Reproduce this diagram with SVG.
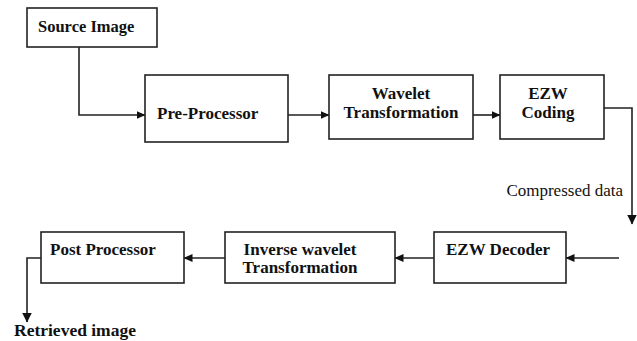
<svg xmlns="http://www.w3.org/2000/svg" width="637" height="341" viewBox="0 0 637 341">
  <style>
    .box { fill: #ffffff; stroke: #222222; stroke-width: 1.6; }
    text { font-family: 'Liberation Serif', 'DejaVu Serif', 'Times New Roman', serif; fill: #111111; }
    .lbl { font-weight: bold; font-size: 17px; }
    .note { font-weight: normal; font-size: 17px; }
    .wire { fill: none; stroke: #222222; stroke-width: 1.6; }
  </style>
  <defs>
    <marker id="arr" markerWidth="9" markerHeight="8" refX="8.5" refY="4" orient="auto" markerUnits="userSpaceOnUse">
      <path d="M0,0 L9,4 L0,8 Z" fill="#111111"/>
    </marker>
    <marker id="arrBig" markerWidth="10" markerHeight="10" refX="9.5" refY="5" orient="auto" markerUnits="userSpaceOnUse">
      <path d="M0,0 L10,5 L0,10 Z" fill="#111111"/>
    </marker>
  </defs>
  <rect width="637" height="341" fill="#ffffff"/>

  <g id="connectors">
    <path class="wire" d="M79,47 V115 H145" marker-end="url(#arr)"/>
    <path class="wire" d="M288,115 H329" marker-end="url(#arr)"/>
    <path class="wire" d="M473,115 H500" marker-end="url(#arr)"/>
    <path class="wire" d="M604,108 H632 V224" marker-end="url(#arrBig)"/>
    <path class="wire" d="M619,258 H566" marker-end="url(#arr)"/>
    <path class="wire" d="M434,258 H395" marker-end="url(#arr)"/>
    <path class="wire" d="M225,258 H184" marker-end="url(#arr)"/>
    <path class="wire" d="M41,258 H27 V322" marker-end="url(#arrBig)"/>
  </g>

  <g font-family="Liberation Serif, serif">
    <g id="source-image">
      <rect class="box" x="27" y="8" width="130" height="39"/>
      <text class="lbl" x="38" y="32" style="font-size:16.5px">Source Image</text>
    </g>

    <g id="pre-processor">
      <rect class="box" x="145" y="75" width="143" height="67"/>
      <text class="lbl" x="157" y="119">Pre-Processor</text>
    </g>

    <g id="wavelet-transformation">
      <rect class="box" x="329" y="75" width="144" height="64"/>
      <text class="lbl" x="401" y="99" text-anchor="middle">Wavelet</text>
      <text class="lbl" x="401" y="118" text-anchor="middle">Transformation</text>
    </g>

    <g id="ezw-coding">
      <rect class="box" x="500" y="75" width="104" height="64"/>
      <text class="lbl" x="548" y="99" text-anchor="middle">EZW</text>
      <text class="lbl" x="548" y="118" text-anchor="middle">Coding</text>
    </g>

    <g id="compressed-data">
      <text class="note" x="623" y="196" text-anchor="end">Compressed data</text>
    </g>

    <g id="ezw-decoder">
      <rect class="box" x="434" y="232" width="132" height="51"/>
      <text class="lbl" x="446" y="255">EZW Decoder</text>
    </g>

    <g id="inverse-wavelet">
      <rect class="box" x="225" y="232" width="170" height="51"/>
      <text class="lbl" x="300" y="255" text-anchor="middle">Inverse wavelet</text>
      <text class="lbl" x="300" y="273" text-anchor="middle">Transformation</text>
    </g>

    <g id="post-processor">
      <rect class="box" x="41" y="232" width="143" height="51"/>
      <text class="lbl" x="50" y="255">Post Processor</text>
    </g>

    <g id="retrieved-image">
      <text class="lbl" x="14" y="336" style="font-size:17.5px">Retrieved image</text>
    </g>
  </g>
</svg>
